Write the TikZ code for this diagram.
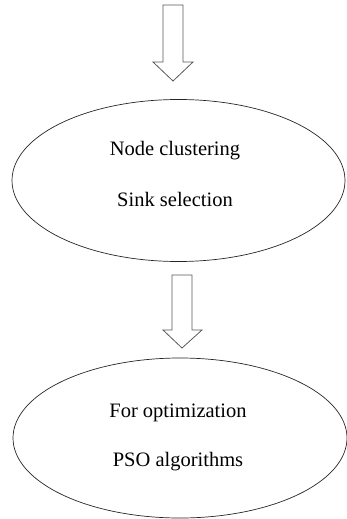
\documentclass[tikz,border=0pt]{standalone}
\usepackage{fontspec}
\setmainfont{Liberation Serif}
\usetikzlibrary{shapes.geometric}
\begin{document}
\begin{tikzpicture}[x=1pt,y=-1pt,
  oval/.style={ellipse, draw=black!85, line width=0.7pt, minimum width=333pt, minimum height=162pt, inner sep=0pt},
  lbl/.style={font=\fontsize{20.5}{24}\selectfont, inner sep=0pt, anchor=base},
  blockarrow/.style={draw=black!65, line width=0.8pt, fill=white, line join=miter}]
\useasboundingbox (0,0) rectangle (346,519);
% top block arrow
\draw[blockarrow] (163,5) -- (183,5) -- (183,62) -- (193,62) -- (173,81) -- (153,62) -- (163,62) -- cycle;
% first ellipse
\node[oval] (e1) at (178.5,180.5) {};
\node[lbl] (t1) at (175,155) {Node clustering};
\node[lbl] (t2) at (175,206) {Sink selection};
% second block arrow
\draw[blockarrow] (172,275) -- (192,275) -- (192,330) -- (202,330) -- (182,348) -- (163,330) -- (172,330) -- cycle;
% second ellipse
\node[oval, minimum height=160pt, minimum width=334pt] (e2) at (180,438) {};
\node[lbl] (t3) at (178,417) {For optimization};
\node[lbl] (t4) at (178,466) {PSO algorithms};
\end{tikzpicture}
\end{document}
